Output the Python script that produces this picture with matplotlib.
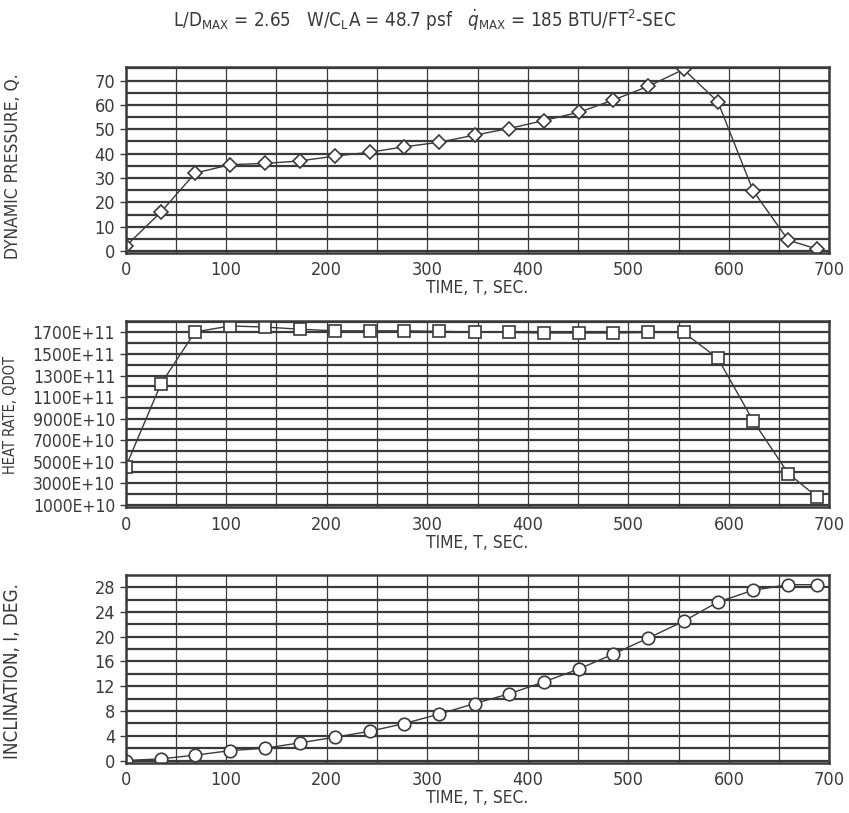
import matplotlib
matplotlib.use("Agg")
import matplotlib.pyplot as plt
import numpy as np

time_s = [0, 35, 69, 104, 139, 173, 208, 243, 277, 312, 347, 381, 416, 451, 485, 520, 555, 589, 624, 659, 688]
dyn_pressure = [2, 16, 32, 35.5, 36, 37, 39, 40.6, 42.8, 44.7, 47.6, 50.3, 53.6, 57, 62, 67.7, 74.6, 61.3, 24.8, 4.5, 0.8]
heat_rate = [4.5e9, 12.2e9, 17.05e9, 17.6e9, 17.5e9, 17.3e9, 17.15e9, 17.15e9, 17.15e9, 17.1e9, 17.05e9,
             17.0e9, 16.95e9, 16.95e9, 16.95e9, 17.0e9, 17.0e9, 14.6e9, 8.8e9, 3.9e9, 1.7e9]
inclination = [0, 0.27, 0.86, 1.6, 2.0, 2.85, 3.76, 4.73, 5.97, 7.5, 9.2, 10.75, 12.7, 14.8, 17.2, 19.8,
               22.5, 25.6, 27.5, 28.4, 28.4]

x_ticks = [0, 100, 200, 300, 400, 500, 600, 700]
q_ticks = [0, 10, 20, 30, 40, 50, 60, 70]
qdot_ticks = [1e9, 3e9, 5e9, 7e9, 9e9, 11e9, 13e9, 15e9, 17e9]
qdot_labels = ["1000E+10", "3000E+10", "5000E+10", "7000E+10", "9000E+10",
               "1100E+11", "1300E+11", "1500E+11", "1700E+11"]
inc_ticks = [0, 4, 8, 12, 16, 20, 24, 28]

INK = "#3a3a3a"
plt.rcParams['font.family'] = ['DejaVu Sans']
plt.rcParams['font.stretch'] = 'condensed'

fig = plt.figure(figsize=(8.49, 8.13), dpi=100)
left, width = 0.148, 0.829
ax1 = fig.add_axes([left, 0.689, width, 0.229])
ax2 = fig.add_axes([left, 0.376, width, 0.229])
ax3 = fig.add_axes([left, 0.0615, width, 0.2315])

def style(ax, ylim, yticks, ygrid_step, ylabels=None):
    ax.set_xlim(0, 700)
    ax.set_ylim(*ylim)
    ax.set_xticks(x_ticks)
    ax.set_xticks(np.arange(0, 701, 50), minor=True)
    ax.set_yticks(yticks)
    if ylabels is not None:
        ax.set_yticklabels(ylabels)
    ax.set_yticks(np.arange(yticks[0], ylim[1], ygrid_step), minor=True)
    ax.grid(True, which='both', axis='x', color=INK, lw=0.9)
    ax.grid(True, which='both', axis='y', color=INK, lw=1.6)
    ax.tick_params(axis='both', which='major', labelsize=13, colors=INK, length=4, width=1)
    ax.tick_params(axis='x', which='major', length=0, pad=6)
    ax.tick_params(which='minor', length=0)
    for s in ax.spines.values():
        s.set_color(INK)
        s.set_linewidth(1.8)
    ax.set_axisbelow(True)
    ax.set_xlabel("TIME, T, SEC.", fontsize=12.5, color=INK, labelpad=0)

style(ax1, (-0.7, 75.7), q_ticks, 5)
ax1.plot(time_s, dyn_pressure, color=INK, lw=1.0, marker='D', ms=7, mfc='white', mec=INK, mew=1.2)

style(ax2, (0.76e9, 1.805e10), qdot_ticks, 1e9, qdot_labels)
ax2.tick_params(axis='y', labelsize=12.5)
ax2.plot(time_s, heat_rate, color=INK, lw=1.0, marker='s', ms=8, mfc='white', mec=INK, mew=1.2)

style(ax3, (-0.4, 30), inc_ticks, 2)
ax3.plot(time_s, inclination, color=INK, lw=1.0, marker='o', ms=9, mfc='white', mec=INK, mew=1.2)

fig.text(0.015, 0.795, "DYNAMIC PRESSURE, Q.", rotation=90, ha='center', va='center', fontsize=12.5, color=INK)
fig.text(0.012, 0.49, "HEAT RATE, QDOT", rotation=90, ha='center', va='center', fontsize=10.5, color=INK)
fig.text(0.015, 0.175, "INCLINATION, I, DEG.", rotation=90, ha='center', va='center', fontsize=13.5, color=INK)

fig.text(0.5, 0.975,
         r"L/D$_{\mathregular{MAX}}$ = 2.65   W/C$_{\mathregular{L}}$A = 48.7 psf   "
         r"$\dot{q}_{\mathregular{MAX}}$ = 185 BTU/FT$^{\mathregular{2}}$-SEC",
         ha='center', va='center', fontsize=13.5, color=INK)

fig.savefig("out.png", dpi=100, facecolor='white')
